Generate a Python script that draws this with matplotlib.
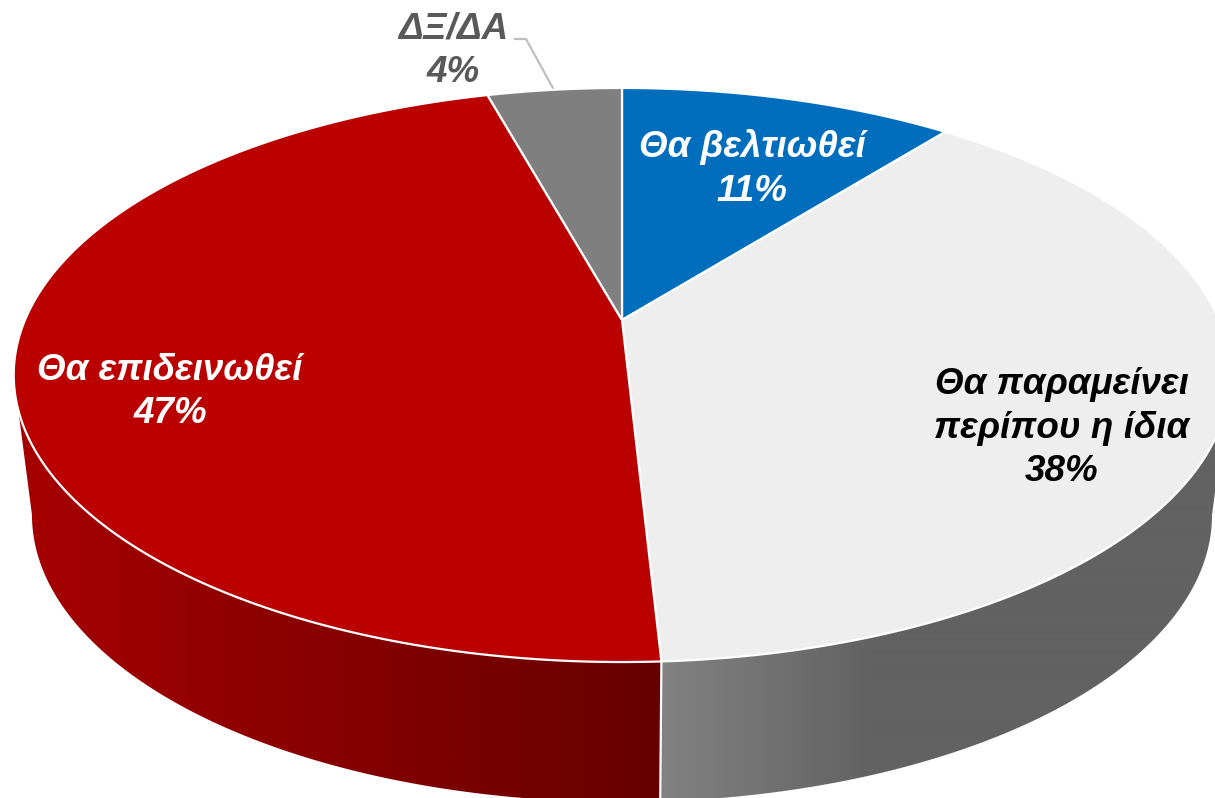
import numpy as np
import matplotlib
matplotlib.use("Agg")
import matplotlib.pyplot as plt
from matplotlib.colors import LinearSegmentedColormap
from matplotlib.patches import Polygon

plt.rcParams['font.family'] = ['Liberation Sans', 'DejaVu Sans']

# clockwise from 12 o'clock
names = ["Θα βελτιωθεί", "Θα παραμείνει\nπερίπου η ίδια", "Θα επιδεινωθεί", "ΔΞ/ΔΑ"]
shares = [10.7, 38.45, 46.55, 4.3]
colors = ["#006ebd", "#eeeeee", "#bb0000", "#7f7f7f"]
text_colors = ["white", "black", "white", "#595959"]
label_x = [752, 1062, 170, 453]
label_y = [169, 428, 392, 51]

# projection of the tilted disc, in image pixels
cx, cy = 622, 320
persp = 0.1916
rx, ry = 597, 276.5
depth = 140
shrink = 0.97


def rim(theta):
    d = 1 + persp * np.cos(theta)
    return cx + rx * np.sin(theta) / d, cy - ry * np.cos(theta) / d


def low_rim(theta):
    x, y = rim(theta)
    return cx + (x - cx) * shrink, y + depth


fig = plt.figure(figsize=(12.15, 7.98), dpi=100)
ax = fig.add_axes([0, 0, 1, 1])

edges = 2 * np.pi * np.cumsum([0] + shares) / 100

# angle where the projected disc is widest, the wall starts there
widest = np.arccos(-persp)

# side wall, only the two slices that face the viewer, shaded left to right
red_side = LinearSegmentedColormap.from_list("red_side", ["#a50000", "#660000"])
grey_side = LinearSegmentedColormap.from_list("grey_side", ["#828282", "#626262"])
side_maps = {1: (grey_side, 661, 871), 2: (red_side, 30, 660)}
for i in [1, 2]:
    cmap, x_start, x_end = side_maps[i]
    th = np.linspace(max(edges[i], widest), min(edges[i + 1], 2 * np.pi - widest), 300)
    x0, y0 = rim(th)
    x1, y1 = low_rim(th)
    outline = np.column_stack([np.r_[x0, x1[::-1]], np.r_[y0, y1[::-1]]])
    clip = Polygon(outline, closed=True, transform=ax.transData, facecolor='none', edgecolor='none')
    ax.add_patch(clip)
    ramp = np.clip((np.arange(1215) - x_start) / (x_end - x_start), 0, 1).reshape(1, -1)
    im = ax.imshow(ramp, cmap=cmap, vmin=0, vmax=1, extent=(0, 1215, 798, 0),
                   aspect='auto', interpolation='bilinear', zorder=1)
    im.set_clip_path(clip)

ax.set_xlim(0, 1215)
ax.set_ylim(798, 0)
ax.axis('off')

# white seam between the two side walls
sx, sy = rim(edges[2])
lx, ly = low_rim(edges[2])
ax.plot([sx, lx], [sy, ly], color='white', lw=1.6, zorder=3)

# top face
for i in range(len(shares)):
    th = np.linspace(edges[i], edges[i + 1], 300)
    x, y = rim(th)
    pts = np.column_stack([np.r_[cx, x], np.r_[cy, y]])
    ax.add_patch(Polygon(pts, closed=True, facecolor=colors[i], edgecolor='white',
                         lw=1.6, joinstyle='round', zorder=4))

# leader line of the small slice
ax.plot([515, 526, 554], [39, 39, 90], color='#bfbfbf', lw=1.6, zorder=3)

for i in range(len(shares)):
    ax.text(label_x[i], label_y[i], "%s\n%d%%" % (names[i], round(shares[i])),
            color=text_colors[i], fontsize=26.5, fontweight='bold', fontstyle='italic',
            ha='center', va='center', linespacing=1.33, zorder=5)

fig.savefig("out.png", dpi=100)
